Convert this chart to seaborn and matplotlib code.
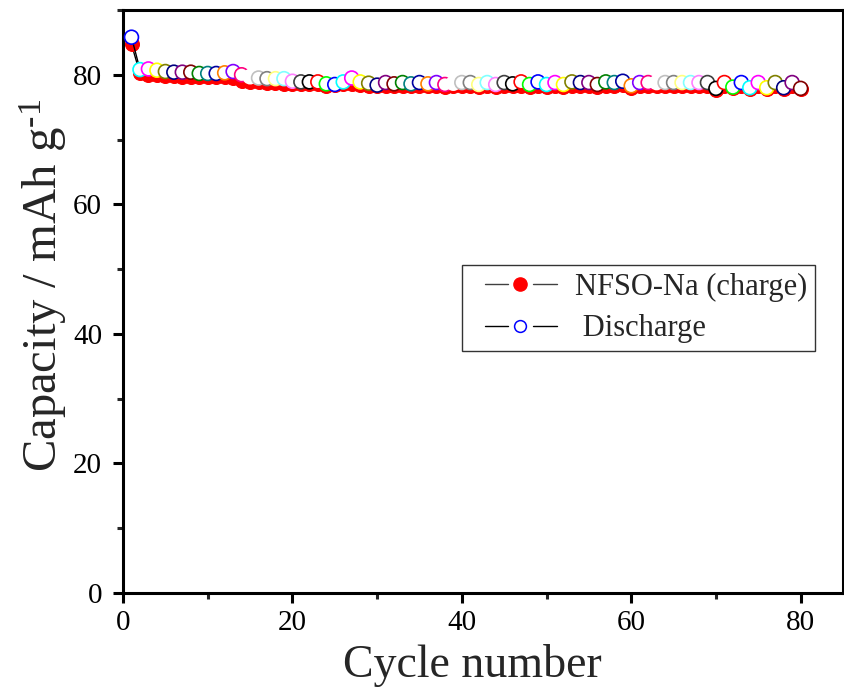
import numpy as np
import pandas as pd
import matplotlib
matplotlib.use("Agg")
import matplotlib.pyplot as plt
from matplotlib.lines import Line2D
from matplotlib.legend_handler import HandlerBase
from matplotlib.ticker import MultipleLocator
import seaborn as sns

# Cycling data: capacity (mAh g-1) per cycle
cycles = list(range(1, 81))

charge_capacity = [
    84.7, 80.2, 80.0, 79.9, 79.8, 79.8, 79.7, 79.7, 79.6, 79.6,
    79.6, 79.6, 79.5, 79.1, 78.9, 78.9, 78.8, 78.7, 78.5, 78.6,
    78.6, 78.5, 78.5, 78.2, 78.4, 78.5, 78.5, 78.4, 78.3, 78.2,
    78.3, 78.2, 78.3, 78.2, 78.3, 78.2, 78.3, 78.1, 78.2, 78.2,
    78.3, 78.1, 78.3, 78.1, 78.3, 78.2, 78.3, 78.1, 78.3, 78.1,
    78.3, 78.1, 78.3, 78.3, 78.2, 78.1, 78.3, 78.2, 78.4, 78.0,
    78.3, 78.3, 78.3, 78.3, 78.3, 78.3, 78.3, 78.3, 78.2, 77.6,
    78.3, 77.9, 78.3, 77.8, 78.3, 77.8, 78.3, 77.8, 78.3, 77.8,
]

discharge_capacity = [
    85.8, 80.8, 80.9, 80.7, 80.5, 80.4, 80.4, 80.4, 80.2, 80.2,
    80.2, 80.3, 80.5, 80.0, 79.7, 79.5, 79.4, 79.4, 79.4, 79.0,
    78.9, 78.9, 78.9, 78.6, 78.5, 78.9, 79.5, 78.9, 78.7, 78.4,
    78.8, 78.6, 78.8, 78.6, 78.8, 78.6, 78.8, 78.5, 78.7, 78.8,
    78.8, 78.5, 78.8, 78.5, 78.8, 78.6, 78.9, 78.5, 78.9, 78.5,
    78.8, 78.5, 78.9, 78.8, 78.8, 78.5, 78.9, 78.8, 79.0, 78.3,
    78.8, 78.8, 78.8, 78.8, 78.8, 78.8, 78.8, 78.8, 78.8, 77.9,
    78.8, 78.1, 78.8, 78.0, 78.8, 78.0, 78.8, 78.0, 78.8, 77.9,
]

# Origin-style colour list used for the open discharge symbols
origin_colors = [
    "#000000", "#FF0000", "#00FF00", "#0000FF", "#00FFFF", "#FF00FF",
    "#FFFF00", "#808000", "#000080", "#800080", "#800000", "#008000",
    "#008080", "#0000A0", "#FF8000", "#8000FF", "#FF0080", "#FFFFFF",
    "#C0C0C0", "#808080", "#FFFF80", "#80FFFF", "#FF80FF", "#404040",
]
discharge_colors = [origin_colors[(c + 2) % len(origin_colors)] for c in cycles]

df = pd.DataFrame({
    "cycle": cycles,
    "charge": charge_capacity,
    "discharge": discharge_capacity,
})


class GappedLineHandler(HandlerBase):
    """Legend key drawn as: line segment, symbol, line segment."""

    def create_artists(self, legend, orig_handle, xdescent, ydescent,
                       width, height, fontsize, trans):
        y = (height - ydescent) / 2.0
        x0 = -xdescent

        def at(f):
            return x0 + f * width

        color = orig_handle.get_color()
        lw = orig_handle.get_linewidth()
        left = Line2D([at(0.172), at(0.437)], [y, y], color=color, lw=lw)
        right = Line2D([at(0.724), at(1.0)], [y, y], color=color, lw=lw)
        mark = Line2D([at(0.58)], [y], linestyle="none", marker="o",
                      markersize=orig_handle.get_markersize(),
                      markerfacecolor=orig_handle.get_markerfacecolor(),
                      markeredgecolor=orig_handle.get_markeredgecolor(),
                      markeredgewidth=orig_handle.get_markeredgewidth())
        for artist in (left, right, mark):
            artist.set_transform(trans)
        return [left, right, mark]


sns.set_theme(style="ticks")
plt.rcParams["font.family"] = ["Liberation Serif", "DejaVu Serif"]
plt.rcParams["mathtext.fontset"] = "custom"
plt.rcParams["mathtext.rm"] = "Liberation Serif"
plt.rcParams["mathtext.it"] = "Liberation Serif:italic"

fig = plt.figure(figsize=(8.45, 6.88), dpi=100)
ax = fig.add_axes([0.1456, 0.138, 0.852, 0.8475])

# Charge: black connecting line with filled red circles
sns.lineplot(data=df, x="cycle", y="charge", ax=ax, color="black",
             linewidth=1.0, zorder=2)
sns.scatterplot(data=df, x="cycle", y="charge", ax=ax, color="#FF0000",
                edgecolor="#FF0000", s=100, linewidth=0.8, zorder=3)

# Discharge: black connecting line with open, multicoloured circles
sns.lineplot(data=df, x="cycle", y="discharge", ax=ax, color="black",
             linewidth=1.0, zorder=4)
sns.scatterplot(data=df, x="cycle", y="discharge", ax=ax,
                hue="cycle", palette=dict(zip(cycles, discharge_colors)),
                s=100, linewidth=1.2, zorder=5, legend=False)
open_marks = ax.collections[-1]
open_marks.set_facecolor("white")
open_marks.set_edgecolor(discharge_colors)

ax.set_xlim(0, 85)
ax.set_ylim(0, 90)
ax.xaxis.set_major_locator(MultipleLocator(20))
ax.xaxis.set_minor_locator(MultipleLocator(10))
ax.yaxis.set_major_locator(MultipleLocator(20))
ax.yaxis.set_minor_locator(MultipleLocator(10))

for side in ax.spines.values():
    side.set_linewidth(2.2)
    side.set_color("black")

ax.tick_params(axis="both", which="major", direction="out", length=7,
               width=2.2, labelsize=21, colors="black", pad=5,
               top=False, right=False)
ax.tick_params(axis="y", which="major", pad=8)
ax.tick_params(axis="both", which="minor", direction="out", length=4,
               width=2.2, top=False, right=False)

ax.set_xlabel("Cycle number", fontsize=33)
ax.set_ylabel("Capacity / mAh g$^{\\text{-1}}$", fontsize=35)
ax.xaxis.set_label_coords(0.485, -0.088)
ax.yaxis.set_label_coords(-0.075, 0.528)

handles = [
    Line2D([], [], color="#404040", linewidth=1.0, marker="o",
           markersize=9.5, markerfacecolor="#FF0000",
           markeredgecolor="#FF0000"),
    Line2D([], [], color="black", linewidth=1.0, marker="o",
           markersize=8.5, markerfacecolor="white",
           markeredgecolor="#0000FF", markeredgewidth=1.1),
]
leg = ax.legend(handles, ["NFSO-Na (charge)", " Discharge"],
                handler_map={Line2D: GappedLineHandler()},
                loc="upper right", bbox_to_anchor=(0.961, 0.562),
                fontsize=22, frameon=True, fancybox=False,
                handlelength=2.85, handletextpad=0.59, borderpad=0.25,
                labelspacing=0.4, borderaxespad=0)
leg.get_frame().set_edgecolor("black")
leg.get_frame().set_linewidth(1.0)

fig.savefig("out.png", dpi=100)
